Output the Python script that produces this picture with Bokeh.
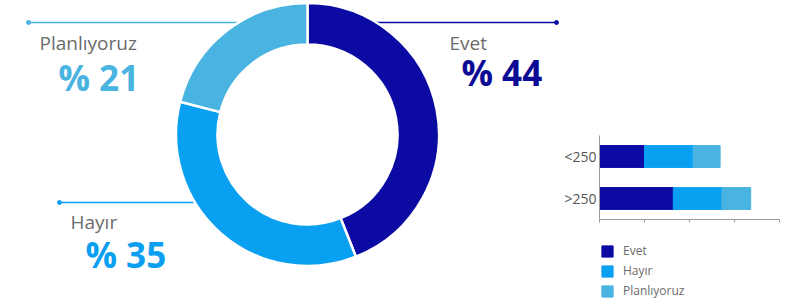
import math
from bokeh.plotting import figure
from bokeh.models import (Range1d, ColumnDataSource, FixedTicker, Legend, LegendItem,
                          LinearAxis)
from bokeh.core.properties import value
from bokeh.embed import file_html
from bokeh.resources import INLINE

# ---- data ----
categories = ["Evet", "Hayır", "Planlıyoruz"]
shares = [44, 35, 21]
share_labels = ["% 44", "% 35", "% 21"]
colors = ["#0b0aa3", "#0aa0f2", "#49b3e1"]
value_colors = ["#0c0b96", "#0a9ff0", "#4ab4e0"]

groups = ["<250", ">250"]
evet = [25, 41]
hayir = [27, 27]
plan = [15, 16]
x_ticks = [0, 25, 50, 75, 100]

FONT = "Open Sans"
GRAY = "#6b6b6b"
AXIS = "#9a9a9a"

W, H = 795, 301


def Y(ry):
    # reference pixel row -> data y (1:1 pixel mapping)
    return H - ry


p = figure(width=W, height=H, x_range=Range1d(0, W), y_range=Range1d(0, H),
           x_axis_type=None, y_axis_type=None,
           output_backend="svg", toolbar_location=None, min_border=0)
p.grid.visible = False
p.outline_line_color = None

# ---- donut ----
lines = dict(x0=[556, 59, 28], x1=[330, 215, 260], y=[Y(22), Y(202), Y(22)], c=colors)
lsrc = ColumnDataSource(lines)
p.segment(x0="x0", y0="y", x1="x1", y1="y", line_color="c", line_width=1.3, source=lsrc)
p.scatter(x="x0", y="y", size=4, color="c", source=lsrc)

starts, ends = [], []
cum = 0
for v in shares:
    starts.append(math.pi / 2 - 2 * math.pi * cum / 100)
    cum += v
    ends.append(math.pi / 2 - 2 * math.pi * cum / 100)
donut = ColumnDataSource(dict(cat=categories, share=shares, start=starts, end=ends, color=colors))
p.annular_wedge(x=307, y=Y(134), inner_radius=90, outer_radius=131.5,
                start_angle="start", end_angle="end", direction="clock",
                fill_color="color", line_color="white", line_width=2.5, source=donut)

p.text(x=[449, 70, 39], y=[Y(42), Y(221), Y(42)], text=categories,
       text_font=value(FONT), text_font_size="19px", text_color=GRAY,
       text_baseline="alphabetic", text_align="left")
p.text(x=[461, 85, 58], y=[Y(72), Y(254), Y(77)], text=share_labels,
       text_font=value(FONT), text_font_size="35px", text_font_style="bold",
       text_color=value_colors, text_baseline="alphabetic", text_align="left")

# ---- stacked bars in their own ranges ----
# bar x: 0 -> pixel 599, 100 -> pixel 779 ; bar y: band 0..2 -> pixel 219..135
sx = 180 / 100.0
bx0 = -599 / sx
p.extra_x_ranges = {"bx": Range1d(bx0, bx0 + W / sx)}
sy = 42.0
by0 = -(H - 219) / sy
p.extra_y_ranges = {"by": Range1d(by0, by0 + H / sy)}

n = len(groups)
ypos = [n - i - 0.5 for i in range(n)]  # first group on top
src = ColumnDataSource(dict(group=groups, y=ypos, Evet=evet, Hayır=hayir, Planlıyoruz=plan))
rs = p.hbar_stack(categories, y="y", height=0.52, color=colors, source=src,
                  x_range_name="bx", y_range_name="by")

xa = LinearAxis(x_range_name="bx", y_range_name="by", fixed_location=0, bounds=(0, 100),
                ticker=FixedTicker(ticks=x_ticks),
                major_label_overrides={t: "" for t in x_ticks},
                major_tick_in=0, major_tick_out=3, minor_tick_line_color=None,
                axis_line_color=AXIS, major_tick_line_color=AXIS)
p.add_layout(xa, "below")

ya = LinearAxis(x_range_name="bx", y_range_name="by", fixed_location=0, bounds=(0, n),
                ticker=FixedTicker(ticks=ypos),
                major_label_overrides={y: g for y, g in zip(ypos, groups)},
                major_tick_line_color=None, minor_tick_line_color=None,
                major_tick_in=0, major_tick_out=0,
                axis_line_color=AXIS, major_label_standoff=3,
                major_label_text_font=FONT, major_label_text_font_size="14px",
                major_label_text_color="#555555")
p.add_layout(ya, "left")

legend = Legend(items=[LegendItem(label=c, renderers=[r]) for c, r in zip(categories, rs)],
                location=(600, 2), glyph_width=14, glyph_height=14, label_height=14,
                spacing=3, padding=0, margin=0, label_standoff=9,
                label_text_font=FONT, label_text_font_size="12px", label_text_color=GRAY,
                border_line_color=None, background_fill_alpha=0)
p.add_layout(legend)

open("out.html", "w").write(file_html(p, INLINE))
